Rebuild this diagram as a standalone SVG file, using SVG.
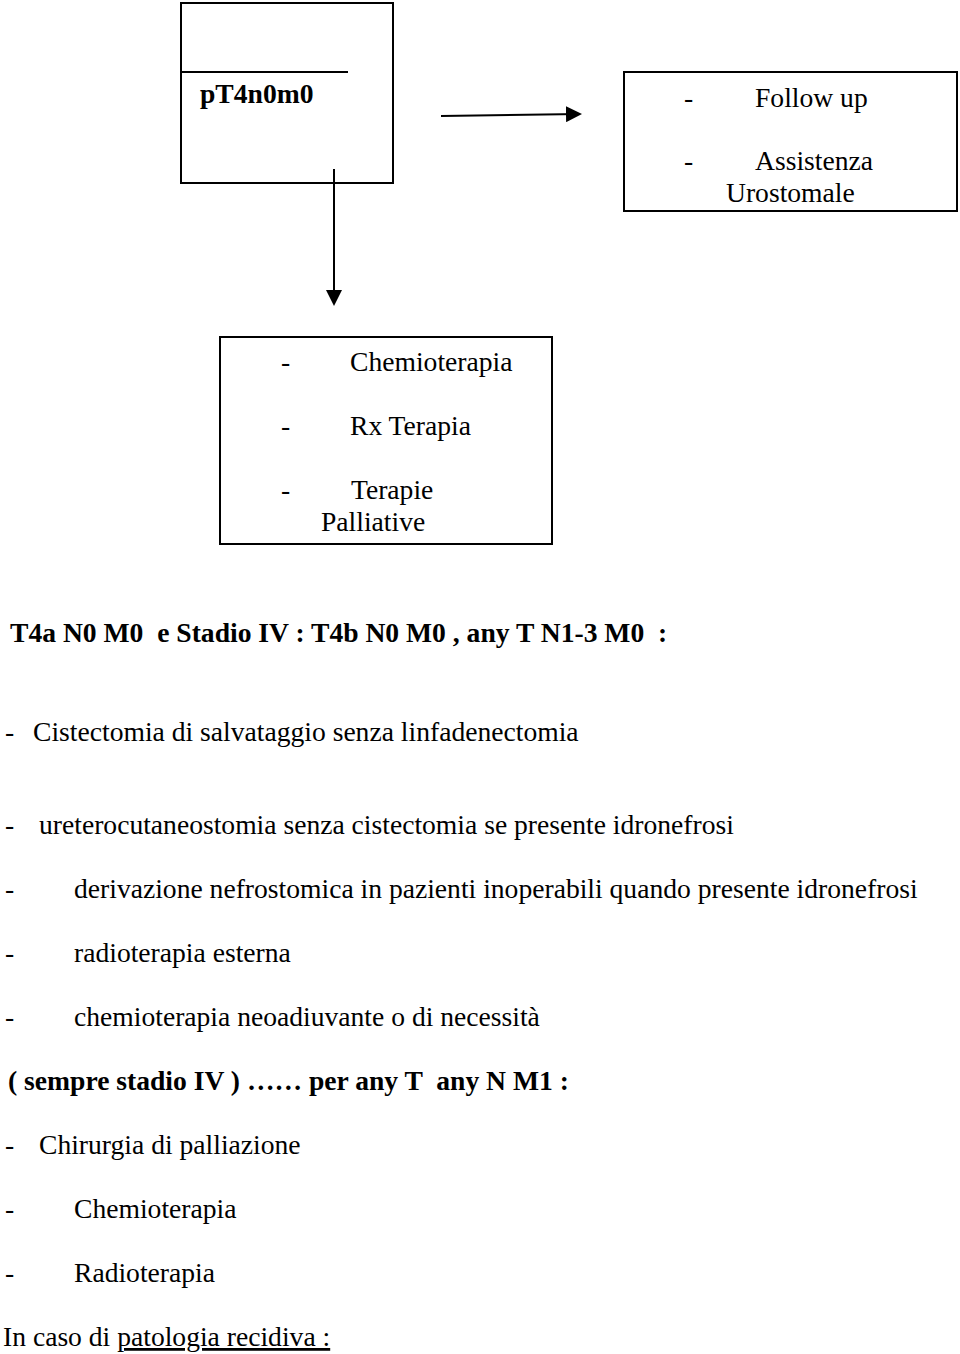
<svg xmlns="http://www.w3.org/2000/svg" width="960" height="1354" viewBox="0 0 960 1354">
<style>
text{font-family:"Liberation Serif","Times New Roman",serif;font-size:27.6px;fill:#000}
.b{font-weight:bold}
.box{fill:none;stroke:#000;stroke-width:2}
.ln{fill:none;stroke:#000;stroke-width:2}
</style>
<defs>
<marker id="ah" markerWidth="8" markerHeight="8" refX="7" refY="4" orient="auto" markerUnits="strokeWidth"><path d="M0,0 L8,4 L0,8 Z" fill="#000"/></marker>
</defs>
<rect width="960" height="1354" fill="#fff"/>
<g id="node-pt4">
<rect class="box" x="181" y="3" width="212" height="180"/>
<line class="ln" x1="181" y1="72" x2="348" y2="72"/>
<text class="b" x="200" y="103">pT4n0m0</text>
</g>
<g id="node-follow">
<rect class="box" x="624" y="72" width="333" height="139"/>
<text x="684" y="107">-</text><text x="755" y="107">Follow up</text>
<text x="684" y="170">-</text><text x="755" y="170">Assistenza</text>
<text x="726" y="202">Urostomale</text>
</g>
<g id="node-terapie">
<rect class="box" x="220" y="337" width="332" height="207"/>
<text x="281" y="371">-</text><text x="350" y="371">Chemioterapia</text>
<text x="281" y="435">-</text><text x="350" y="435">Rx Terapia</text>
<text x="281" y="499">-</text><text x="351" y="499">Terapie</text>
<text x="321" y="531">Palliative</text>
</g>
<g id="connectors">
<line class="ln" x1="441" y1="116" x2="580" y2="114" marker-end="url(#ah)"/>
<line class="ln" x1="334" y1="169" x2="334" y2="304" marker-end="url(#ah)"/>
</g>
<g id="text-body">
<text class="b" x="10" y="642" xml:space="preserve">T4a N0 M0  e Stadio IV : T4b N0 M0 , any T N1-3 M0  :</text>
<text x="5" y="741">-</text><text x="33" y="741">Cistectomia di salvataggio senza linfadenectomia</text>
<text x="5" y="834">-</text><text x="39" y="834">ureterocutaneostomia senza cistectomia se presente idronefrosi</text>
<text x="5" y="898">-</text><text x="74" y="898">derivazione nefrostomica in pazienti inoperabili quando presente idronefrosi</text>
<text x="5" y="962">-</text><text x="74" y="962">radioterapia esterna</text>
<text x="5" y="1026">-</text><text x="74" y="1026">chemioterapia neoadiuvante o di necessità</text>
<text class="b" x="8" y="1090" xml:space="preserve">( sempre stadio IV ) …… per any T  any N M1 :</text>
<text x="5" y="1154">-</text><text x="39" y="1154">Chirurgia di palliazione</text>
<text x="5" y="1218">-</text><text x="74" y="1218">Chemioterapia</text>
<text x="5" y="1282">-</text><text x="74" y="1282">Radioterapia</text>
<text x="3" y="1346">In caso di <tspan text-decoration="underline">patologia recidiva :</tspan></text>
</g>
</svg>
